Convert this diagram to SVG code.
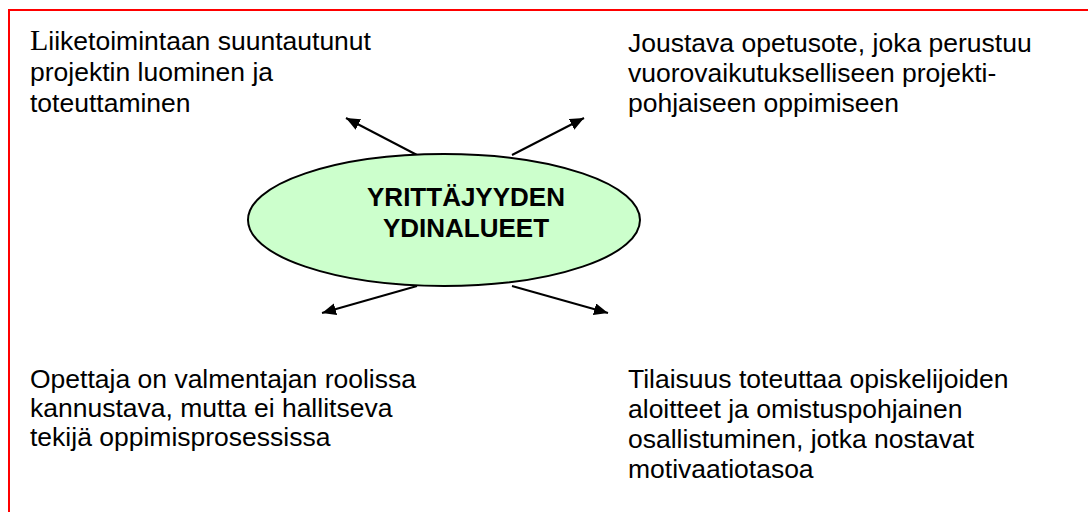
<svg xmlns="http://www.w3.org/2000/svg" width="1088" height="512" viewBox="0 0 1088 512">
<style>
.t{font-family:"Liberation Sans",Arial,sans-serif;font-size:26.5px;fill:#000}
.b{font-family:"Liberation Sans",Arial,sans-serif;font-size:26px;font-weight:bold;fill:#000}
.s{font-family:"Liberation Serif","Times New Roman",serif;font-size:30px}
.c{stroke:#000;stroke-width:2;fill:none}
</style>
<defs>
<marker id="ah" viewBox="0 0 14 12" refX="14" refY="6" markerWidth="14" markerHeight="12" markerUnits="userSpaceOnUse" orient="auto">
<path d="M0,0 L14,6 L0,12 Z" fill="#000"/>
</marker>
</defs>
<rect x="9" y="10" width="1100" height="520" fill="#fff" stroke="#ff0000" stroke-width="2"/>
<g id="connectors">
<line class="c" x1="417" y1="155" x2="346" y2="118" marker-end="url(#ah)"/>
<line class="c" x1="512" y1="155" x2="584" y2="118" marker-end="url(#ah)"/>
<line class="c" x1="417" y1="286" x2="322" y2="313" marker-end="url(#ah)"/>
<line class="c" x1="512" y1="286" x2="608" y2="313" marker-end="url(#ah)"/>
</g>
<g id="center">
<ellipse cx="444" cy="220" rx="196" ry="66" fill="#ccffcc" stroke="#000" stroke-width="2"/>
<text class="b" x="466" y="206" text-anchor="middle">YRITTÄJYYDEN</text>
<text class="b" x="466" y="237" text-anchor="middle">YDINALUEET</text>
</g>
<g id="topleft">
<text class="t" x="30" y="50"><tspan class="s">L</tspan>iiketoimintaan suuntautunut</text>
<text class="t" x="30" y="81">projektin luominen ja</text>
<text class="t" x="30" y="112">toteuttaminen</text>
</g>
<g id="topright">
<text class="t" x="628" y="52">Joustava opetusote, joka perustuu</text>
<text class="t" x="628" y="82">vuorovaikutukselliseen projekti-</text>
<text class="t" x="628" y="112">pohjaiseen oppimiseen</text>
</g>
<g id="bottomleft">
<text class="t" x="30" y="388">Opettaja on valmentajan roolissa</text>
<text class="t" x="30" y="417">kannustava, mutta ei hallitseva</text>
<text class="t" x="30" y="446">tekijä oppimisprosessissa</text>
</g>
<g id="bottomright">
<text class="t" x="628" y="388">Tilaisuus toteuttaa opiskelijoiden</text>
<text class="t" x="628" y="418">aloitteet ja omistuspohjainen</text>
<text class="t" x="628" y="448">osallistuminen, jotka nostavat</text>
<text class="t" x="628" y="478">motivaatiotasoa</text>
</g>
</svg>
